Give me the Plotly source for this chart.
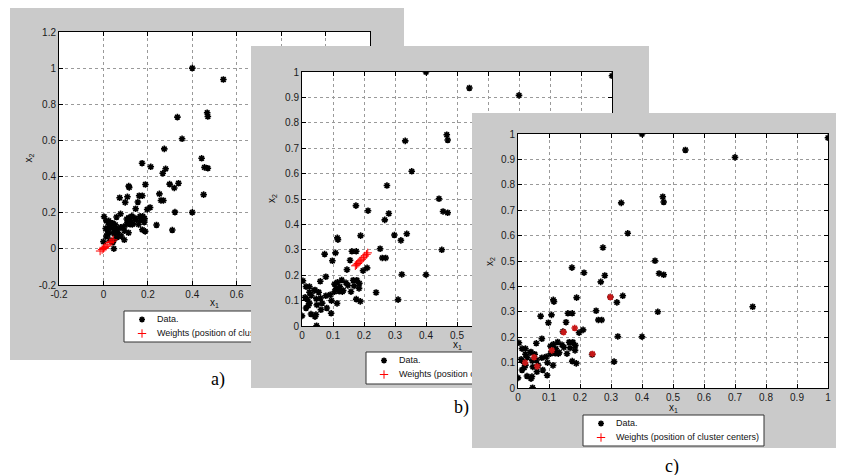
import plotly.graph_objects as go

# The page places the figure 8px from the top-left corner, so all pixel
# positions below (measured on the 844x475 reference) are shifted by OFF.
OFF = 8
W, H = 844 - OFF, 475 - OFF
GRAY = "#cacaca"

# ---- data ----
x1_data = [0.40, 1.00, 0.54, 0.70, 0.333, 0.467, 0.47, 0.354, 0.274, 0.442,
           0.455, 0.47, 0.174, 0.213, 0.28, 0.267, 0.338, 0.319, 0.189, 0.114,
           0.116, 0.252, 0.259, 0.27, 0.451, 0.757, 0.161, 0.175, 0.073, 0.108,
           0.155, 0.098, 0.210, 0.197, 0.322, 0.40, 0.31, 0.239, 0.145, 0.077,
           0.059, 0.003, 0.128, 0.114, 0.142, 0.177, 0.185, 0.013, 0.024, 0.042,
           0.054, 0.024, 0.184, 0.158, 0.12, 0.11, 0.091, 0.077, 0.01, 0.024,
           0.02, 0.046, 0.048, 0.013, 0.061, 0.113, 0.08, 0.175, 0.188, 0.094,
           0.0, 0.029, 0.042, 0.045, 0.047, 0.13, 0.148, 0.122, 0.105, 0.165,
           0.04, 0.03, 0.06, 0.095, 0.133, 0.105, 0.017, 0.065, 0.168, 0.298]
x2_data = [1.00, 0.985, 0.937, 0.908, 0.729, 0.753, 0.732, 0.609, 0.553, 0.501,
           0.451, 0.446, 0.474, 0.454, 0.443, 0.418, 0.363, 0.337, 0.356, 0.347,
           0.340, 0.304, 0.268, 0.268, 0.30, 0.32, 0.294, 0.294, 0.283, 0.288,
           0.259, 0.257, 0.229, 0.218, 0.203, 0.202, 0.104, 0.132, 0.222, 0.194,
           0.176, 0.178, 0.181, 0.172, 0.170, 0.180, 0.168, 0.155, 0.155, 0.142,
           0.133, 0.133, 0.148, 0.135, 0.137, 0.146, 0.123, 0.119, 0.113, 0.09,
           0.08, 0.107, 0.083, 0.071, 0.064, 0.089, 0.071, 0.106, 0.097, 0.05,
           0.04, 0.047, 0.037, 0.045, 0.001, 0.135, 0.16, 0.155, 0.165, 0.18,
           0.14, 0.12, 0.11, 0.10, 0.14, 0.135, 0.105, 0.09, 0.158, 0.358]

# weights (cluster centres) per panel
wa_x1 = [-0.015, -0.006, 0.0, 0.006, 0.012, 0.02, 0.03, 0.038, 0.044]
wa_x2 = [-0.012, -0.004, 0.002, 0.008, 0.014, 0.022, 0.035, 0.042, 0.05]
wb_x1 = [0.172, 0.176, 0.18, 0.184, 0.188, 0.193, 0.198, 0.203, 0.208, 0.212]
wb_x2 = [0.237, 0.241, 0.246, 0.252, 0.257, 0.263, 0.269, 0.276, 0.282, 0.288]
wc_x1 = [0.298, 0.147, 0.183, 0.24, 0.109, 0.052, 0.023, 0.062]
wc_x2 = [0.358, 0.22, 0.236, 0.134, 0.148, 0.121, 0.1, 0.085]

ticks_a = [-0.2, 0, 0.2, 0.4, 0.6, 0.8, 1.0, 1.2]
ticktext_a = ["-0.2", "0", "0.2", "0.4", "0.6", "0.8", "1", "1.2"]
ticks_bc = [0, 0.1, 0.2, 0.3, 0.4, 0.5, 0.6, 0.7, 0.8, 0.9, 1.0]
ticktext_bc = ["0", "0.1", "0.2", "0.3", "0.4", "0.5", "0.6", "0.7", "0.8", "0.9", "1"]

legend_labels = ["Data.", "Weights (position of cluster centers)"]
panel_labels = ["a)", "b)", "c)"]
x_title = "x<sub>1</sub>"
y_title = "x<sub>2</sub>"

# ---- layout geometry (reference pixels) ----
panels = [
    dict(frame=(10, 6, 404, 360), axes=(59, 32, 370, 285), rng=(-0.2, 1.2),
         ticks=ticks_a, tt=ticktext_a, wx=wa_x1, wy=wa_x2, wsym="cross-thin-open",
         legend=(124, 311, 305, 342), label=(218, 379), xt=18, yt=31),
    dict(frame=(251, 46, 649, 388), axes=(302, 72, 612, 326), rng=(0, 1),
         ticks=ticks_bc, tt=ticktext_bc, wx=wb_x1, wy=wb_x2, wsym="cross-thin-open",
         legend=(366, 352, 547, 384), label=(461, 407), xt=19, yt=30),
    dict(frame=(472, 113, 842, 448), axes=(518, 134, 828, 388), rng=(0, 1),
         ticks=ticks_bc, tt=ticktext_bc, wx=wc_x1, wy=wc_x2, wsym="asterisk-open",
         legend=(583, 415, 764, 446), label=(672, 466), xt=20, yt=28),
]


def px_x(v):
    return (v - OFF) / W


def px_y(v):
    return 1 - (v - OFF) / H


fig = go.Figure()
shapes = []
annotations = []
layout = {}
font_tick = dict(family="Liberation Sans, Arial", size=10, color="#1a1a1a")

for i, p in enumerate(panels):
    fx = 2 * i + 2
    dx = 2 * i + 3
    fl, ft, fr, fb = p["frame"]
    al, at, ar, ab = p["axes"]
    lo, hi = p["rng"]
    ft_c = max(ft, OFF)
    fb_c = min(fb, H + OFF)

    layout[f"xaxis{fx}"] = dict(domain=[px_x(fl), px_x(fr)], range=[fl, fr], visible=False,
                                anchor=f"y{fx}", fixedrange=True)
    layout[f"yaxis{fx}"] = dict(domain=[px_y(fb_c), px_y(ft_c)], range=[fb_c, ft_c],
                                visible=False, anchor=f"x{fx}", fixedrange=True)
    common = dict(range=[lo, hi], tickmode="array", tickvals=p["ticks"], ticktext=p["tt"],
                  ticks="inside", ticklen=4, tickcolor="black", showline=True,
                  linecolor="black", linewidth=1, mirror="allticks", showgrid=True,
                  gridcolor="#9a9a9a", griddash="dot", gridwidth=1, zeroline=False,
                  tickfont=font_tick, fixedrange=True)
    layout[f"xaxis{dx}"] = dict(domain=[px_x(al), px_x(ar)], anchor=f"y{dx}", **common)
    layout[f"yaxis{dx}"] = dict(domain=[px_y(ab), px_y(at)], anchor=f"x{dx}", **common)

    # gray figure frame, legend box, white axes area
    shapes.append(dict(type="rect", xref=f"x{fx}", yref=f"y{fx}", x0=fl, x1=fr, y0=ft_c, y1=fb_c,
                       fillcolor=GRAY, line=dict(width=0), layer="below"))
    ll, lt, lr, lb = p["legend"]
    shapes.append(dict(type="rect", xref=f"x{fx}", yref=f"y{fx}", x0=ll, x1=lr, y0=lt, y1=lb,
                       fillcolor="white", line=dict(color="#333", width=1), layer="below"))
    shapes.append(dict(type="rect", xref=f"x{dx}", yref=f"y{dx}", x0=lo, x1=hi, y0=lo, y1=hi,
                       fillcolor="white", line=dict(width=0), layer="below"))

    # legend contents (inside the frame subplot so later panels cover them)
    mx = ll + 18
    tx = ll + 33
    ty1 = lt + 8.5
    ty2 = lt + 22.5
    fig.add_trace(go.Scatter(x=[tx, tx], y=[ty1, ty2], mode="text", text=legend_labels,
                             textposition="middle right",
                             textfont=dict(family="Liberation Sans, Arial", size=9, color="#111"),
                             xaxis=f"x{fx}", yaxis=f"y{fx}", hoverinfo="skip", showlegend=False))
    fig.add_trace(go.Scatter(x=[mx], y=[ty1], mode="markers",
                             marker=dict(symbol="asterisk-open", size=5, color="black",
                                         line=dict(color="black", width=1.5)),
                             xaxis=f"x{fx}", yaxis=f"y{fx}", hoverinfo="skip", showlegend=False))
    fig.add_trace(go.Scatter(x=[mx], y=[ty2], mode="markers",
                             marker=dict(symbol="cross-thin-open", size=6, color="red",
                                         line=dict(color="red", width=1)),
                             xaxis=f"x{fx}", yaxis=f"y{fx}", hoverinfo="skip", showlegend=False))

    # data and weights
    fig.add_trace(go.Scatter(x=x1_data, y=x2_data, mode="markers", name="Data.",
                             marker=dict(symbol="asterisk-open", size=5.5, color="black",
                                         line=dict(color="black", width=1.6)),
                             xaxis=f"x{dx}", yaxis=f"y{dx}", showlegend=False))
    if p["wsym"] == "asterisk-open":
        wmarker = dict(symbol="asterisk-open", size=5.5, color="#c81818",
                       line=dict(color="#c81818", width=1.6))
    else:
        wmarker = dict(symbol="cross-thin-open", size=6, color="red",
                       line=dict(color="red", width=1))
    fig.add_trace(go.Scatter(x=p["wx"], y=p["wy"], mode="markers",
                             name="Weights (position of cluster centers)", marker=wmarker,
                             xaxis=f"x{dx}", yaxis=f"y{dx}", showlegend=False))

    # axis titles and panel label
    annotations.append(dict(xref="paper", yref="paper", x=px_x((al + ar) / 2),
                            y=px_y(ab + p["xt"]),
                            text=x_title, showarrow=False, xanchor="center", yanchor="middle",
                            font=dict(family="Liberation Sans, Arial", size=10, color="#111")))
    annotations.append(dict(xref="paper", yref="paper", x=px_x(al - p["yt"]),
                            y=px_y((at + ab) / 2),
                            text=y_title, showarrow=False, xanchor="center", yanchor="middle",
                            textangle=-90,
                            font=dict(family="Liberation Sans, Arial", size=10, color="#111")))
    lx, ly = p["label"]
    annotations.append(dict(xref="paper", yref="paper", x=px_x(lx), y=px_y(ly),
                            text=panel_labels[i], showarrow=False, xanchor="center",
                            yanchor="middle",
                            font=dict(family="Liberation Serif, Times New Roman", size=18,
                                      color="black")))

fig.update_layout(template="none", width=W, height=H, margin=dict(l=0, r=0, t=0, b=0),
                  paper_bgcolor="white", plot_bgcolor="rgba(0,0,0,0)",
                  showlegend=False, shapes=shapes, annotations=annotations, **layout)

fig.write_html("out.html")
